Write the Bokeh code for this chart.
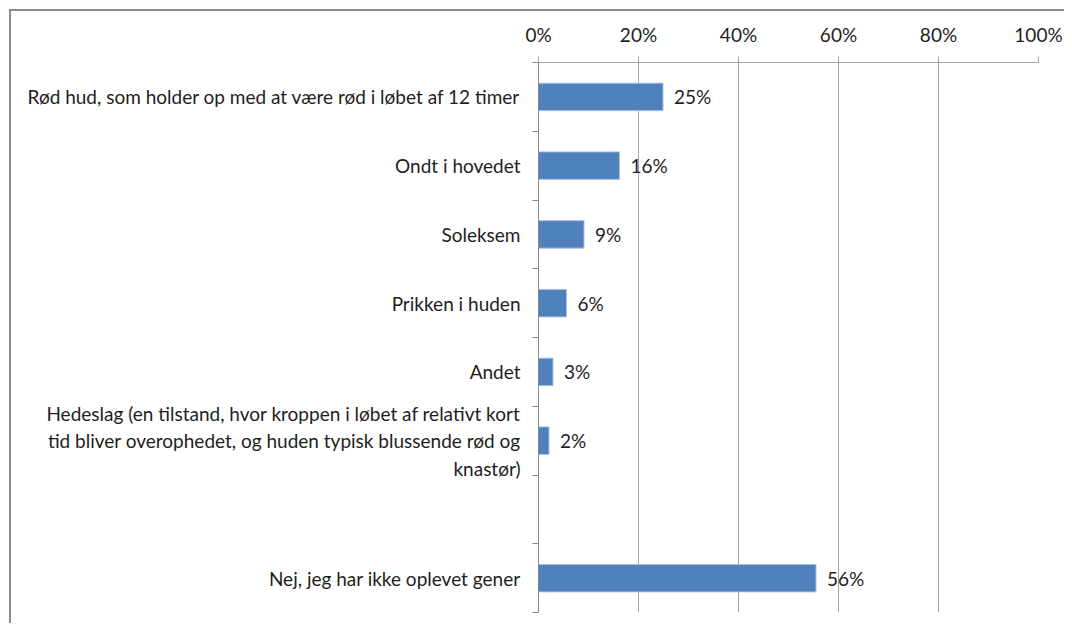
from bokeh.plotting import figure
from bokeh.models import ColumnDataSource, LabelSet, Range1d, FixedTicker, LinearAxis
from bokeh.core.properties import value
from bokeh.embed import file_html
from bokeh.resources import INLINE

# ---- data ----
categories = [
    "Rød hud, som holder op med at være rød i løbet af 12 timer",
    "Ondt i hovedet",
    "Soleksem",
    "Prikken i huden",
    "Andet",
    "Hedeslag (en tilstand, hvor kroppen i løbet af relativt kort\ntid bliver overophedet, og huden typisk blussende rød og\nknastør)",
    "",
    "Nej, jeg har ikke oplevet gener",
]
values = [24.9, 16.2, 9.1, 5.6, 2.9, 2.1, None, 55.5]
value_labels = ["25%", "16%", "9%", "6%", "3%", "2%", "", "56%"]
x_ticks = [0, 20, 40, 60, 80, 100]
x_tick_labels = ["0%", "20%", "40%", "60%", "80%", "100%"]

FONT = "Lato"
FS = "19px"
BAR_COLOR = "#4f81bd"
GRID = "#a6a6a6"
TEXT = "#1e1e1e"

n = len(categories)
pos = [i + 0.5 for i in range(n)]
bounds = [float(i) for i in range(n + 1)]

p = figure(width=1055, height=614, output_backend="svg", toolbar_location=None,
           x_range=Range1d(0, 100), y_range=Range1d(n, 0),
           x_axis_location=None, y_axis_location=None,
           min_border_left=527, min_border_right=28,
           min_border_top=51, min_border_bottom=13)
p.styles = {"margin-left": "9px", "margin-top": "9px",
            "border-top": "2px solid #8c8c8c", "border-left": "2px solid #8c8c8c"}
p.outline_line_color = None
p.background_fill_color = "white"
p.border_fill_color = "white"

# bars
by = [y for y, v in zip(pos, values) if v is not None]
bv = [v for v in values if v is not None]
bars = ColumnDataSource(dict(y=by, right=bv))
p.hbar(y="y", left=0, right="right", height=0.40, source=bars,
       fill_color=BAR_COLOR, line_color="#a9c1e2", line_width=1)

# top axis
xa = LinearAxis(ticker=FixedTicker(ticks=x_ticks))
xa.major_label_overrides = {t: l for t, l in zip(x_ticks, x_tick_labels)}
xa.axis_line_color = GRID
xa.major_tick_line_color = GRID
xa.major_tick_out = 6
xa.major_tick_in = 0
xa.minor_tick_line_color = None
xa.major_label_text_font = FONT
xa.major_label_text_font_size = FS
xa.major_label_text_color = TEXT
xa.major_label_standoff = 11
p.add_layout(xa, "above")

# left axis: labels at category centres, ticks at category boundaries
ya = LinearAxis(ticker=FixedTicker(ticks=pos, minor_ticks=bounds))
ya.major_label_overrides = {y: c for y, c in zip(pos, categories)}
ya.axis_line_color = "#888888"
ya.major_tick_line_color = None
ya.major_tick_out = 0
ya.major_tick_in = 0
ya.minor_tick_line_color = "#888888"
ya.minor_tick_out = 6
ya.minor_tick_in = 0
ya.major_label_text_font = FONT
ya.major_label_text_font_size = FS
ya.major_label_text_color = TEXT
ya.major_label_standoff = 12
p.add_layout(ya, "left")

p.xgrid.ticker = FixedTicker(ticks=x_ticks[1:])
p.xgrid.grid_line_color = GRID
p.ygrid.grid_line_color = None

# value labels
vl = ColumnDataSource(dict(x=bv, y=by,
                           t=[l for l, v in zip(value_labels, values) if v is not None]))
p.add_layout(LabelSet(x="x", y="y", text="t", source=vl, x_offset=11,
                      text_baseline="middle", text_font=value(FONT),
                      text_font_size=value(FS), text_color=TEXT))

open("out.html", "w").write(file_html(p, INLINE))
